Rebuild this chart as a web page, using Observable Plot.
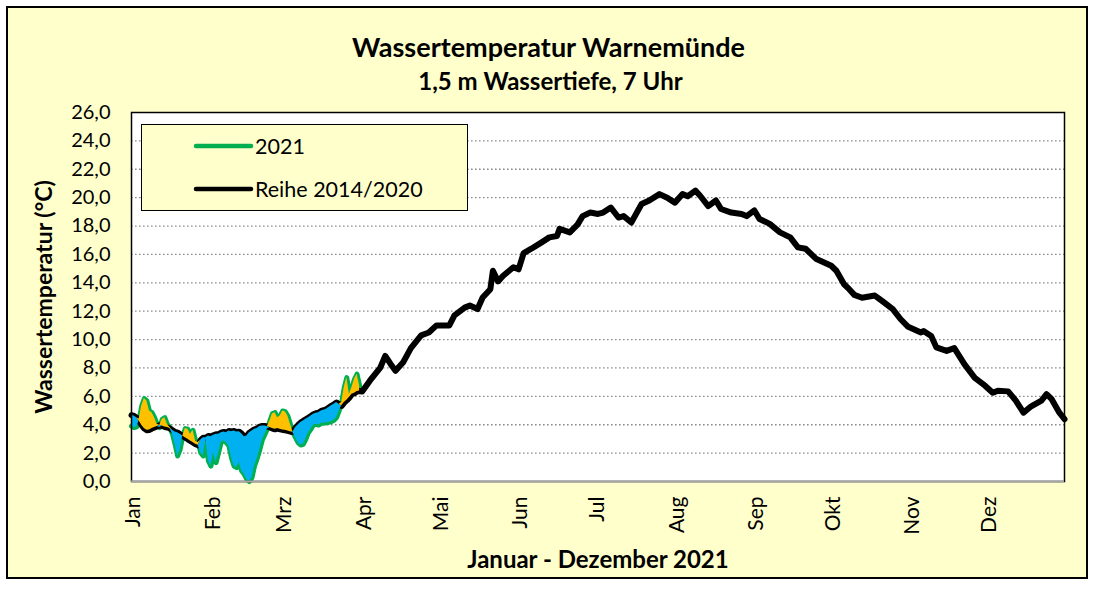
<!DOCTYPE html>
<html><head><meta charset="utf-8">
<script src="https://cdn.jsdelivr.net/npm/d3@7"></script>
<script src="https://cdn.jsdelivr.net/npm/@observablehq/plot@0.6"></script>
<style>
html,body{margin:0;padding:0;background:#fff;}
#chart{position:absolute;left:6px;top:6px;width:1078px;height:569px;border:2px solid #000;background:#FFFFCC;}
#plot{position:absolute;left:0;top:0;}
#legend{position:absolute;left:141px;top:124px;width:325px;height:85px;border:1.5px solid #000;background:#FFFFCC;}
#legend svg{position:absolute;left:0;top:0;}
#legend text{font-family:Lato,sans-serif;font-size:21.5px;fill:#000;}
</style></head>
<body>
<div id="chart"></div>
<div id="plot"></div>
<div id="legend">
<svg width="326" height="86">
<line x1="54" x2="109" y1="21" y2="21" stroke="#00B050" stroke-width="4.5" stroke-linecap="round"/>
<text x="113" y="29">2021</text>
<line x1="54" x2="109" y1="64" y2="64" stroke="#000" stroke-width="4.5" stroke-linecap="round"/>
<text x="113" y="71.5">Reihe 2014/2020</text>
</svg>
</div>
<script>
// Tick labels
const monthNames = ["Jan","Feb","Mrz","Apr","Mai","Jun","Jul","Aug","Sep","Okt","Nov","Dez"];
const monthDays = [1,32,60,91,121,152,182,213,244,274,305,335];
const yTicks = [0,2,4,6,8,10,12,14,16,18,20,22,24,26];

// Reihe 2014/2020, daily values for day 1..91
const reiheJanMar = [4.67,4.62,4.5,4.27,3.96,3.73,3.61,3.63,3.73,3.8,3.87,3.96,3.91,3.84,3.8,3.73,3.61,3.49,3.44,3.33,
  3.21,3.09,2.97,2.86,2.74,2.62,2.55,2.93,3.09,3.09,3.21,3.16,3.26,3.33,3.33,3.44,3.49,3.44,3.56,3.51,
  3.56,3.49,3.51,3.37,3.16,3.21,3.44,3.56,3.68,3.73,3.87,3.91,3.91,3.87,3.8,3.73,3.68,3.73,3.68,3.63,
  3.61,3.56,3.51,3.49,3.8,3.98,4.15,4.27,4.38,4.5,4.62,4.74,4.81,4.85,4.97,5.02,5.09,5.21,5.33,5.44,
  5.56,5.44,5.33,5.56,5.72,5.91,6.15,6.22,6.34,6.38,6.34];

// Reihe 2014/2020 after March: day of year and value
const reiheDays = [94,98,100,102,104,107,110,114,117,120,125,127,131,133,136,138,141,142,144,146,150,152,154,157,161,164,167,168,172,175,177,180,183,185,188,191,193,196,200,203,207,210,213,216,218,221,223,226,229,231,235,239,241,244,246,250,254,258,261,264,268,274,276,279,281,283,286,291,294,298,301,304,309,310,313,315,319,322,326,330,334,337,339,343,346,349,352,356,358,360,363,365];
const reiheTemp = [7.1,8.0,8.85,8.3,7.8,8.4,9.4,10.3,10.5,11.0,11.0,11.7,12.25,12.4,12.15,12.96,13.55,14.85,14.1,14.5,15.1,14.95,16.1,16.4,16.85,17.2,17.3,17.8,17.55,18.1,18.7,18.95,18.85,18.95,19.3,18.6,18.7,18.25,19.55,19.8,20.25,20.0,19.65,20.25,20.1,20.5,20.1,19.4,19.8,19.2,18.95,18.85,18.7,19.1,18.5,18.15,17.55,17.2,16.5,16.4,15.7,15.2,14.85,13.9,13.55,13.15,12.95,13.1,12.7,12.15,11.45,10.9,10.5,10.6,10.25,9.45,9.2,9.4,8.25,7.3,6.75,6.25,6.4,6.35,5.7,4.85,5.3,5.7,6.15,5.8,4.85,4.4];

// 2021, daily values for day 1..90
const temp2021 = [3.9,3.8,3.85,4.4,5.33,5.84,5.68,4.97,4.85,4.5,4.03,3.8,4.38,4.5,4.03,3.8,3.33,2.62,1.8,2.27,
  3.21,3.73,3.68,3.33,3.61,2.86,2.75,2.03,1.8,2.97,1.45,1.09,2.03,1.33,2.03,2.79,2.86,2.74,2.5,1.68,
  1.09,0.98,1.33,0.74,0.51,0.15,0.0,0.27,1.1,1.6,2.2,2.9,3.3,3.7,4.27,4.78,4.85,4.5,4.62,4.97,
  4.92,4.62,4.03,3.44,3.09,2.74,2.57,2.62,2.97,3.44,3.68,3.98,4.03,3.98,4.08,4.13,4.13,4.17,4.22,4.31,
  4.5,4.97,5.56,6.62,7.32,6.15,6.62,7.2,7.56,6.74];

const reihe = reiheJanMar.map((v, i) => ({day: i + 1, v}))
  .concat(reiheDays.map((d, i) => ({day: d, v: reiheTemp[i]})));
const y2021 = temp2021.map((v, i) => ({day: i + 1, v, r: reiheJanMar[i]}));

const fmt = d => d.toFixed(1).replace(".", ",");

const chart = Plot.plot({
  width: 1096, height: 592,
  marginLeft: 131, marginRight: 32, marginTop: 112, marginBottom: 111,
  style: {background: "transparent", fontFamily: "Lato, sans-serif", fontSize: "20px", color: "#000"},
  x: {domain: [1, 365]},
  y: {domain: [0, 26]},
  marks: [
    Plot.frame({fill: "#fff", stroke: null}),
    Plot.gridY(yTicks.filter(t => t > 0 && t < 26), {stroke: "#8c8c8c", strokeOpacity: 1, strokeWidth: 1.3, strokeDasharray: "1.6,2.4"}),
    Plot.line(y2021, {x: "day", y: "v", stroke: "#00B050", strokeWidth: 5, strokeLinejoin: "round"}),
    Plot.line(reihe, {x: "day", y: "v", stroke: "#000", strokeWidth: 6, strokeLinejoin: "round", strokeLinecap: "round"}),
    Plot.areaY(y2021, {x: "day", y1: "r", y2: d => Math.min(d.v, d.r), fill: "#00B0F0"}),
    Plot.areaY(y2021, {x: "day", y1: "r", y2: d => Math.max(d.v, d.r), fill: "#FFC000"}),
    Plot.frame({stroke: "#000", strokeWidth: 1.5}),
    Plot.ruleY([0], {stroke: "#a6a6a6", strokeWidth: 2}),
    Plot.axisY(yTicks, {tickFormat: fmt, tickSize: 0, tickPadding: 21, fontSize: 20, label: null}),
    Plot.axisX(monthDays, {tickFormat: d => monthNames[monthDays.indexOf(d)], tickRotate: -90, tickSize: 0, tickPadding: 15, dx: 2, fontSize: 21, label: null}),
    Plot.text(["Wassertemperatur Warnemünde"], {text: d => d, frameAnchor: "top-left", dx: 417, dy: -64.5, lineAnchor: "middle", fontSize: 27, fontWeight: "bold", textAnchor: "middle"}),
    Plot.text(["1,5 m Wassertiefe, 7 Uhr"], {text: d => d, frameAnchor: "top-left", dx: 419, dy: -30, lineAnchor: "middle", fontSize: 24, fontWeight: "bold", textAnchor: "middle"}),
    Plot.text(["Wassertemperatur (°C)"], {text: d => d, frameAnchor: "left", dx: -87, rotate: -90, lineAnchor: "middle", fontSize: 23, fontWeight: "bold", textAnchor: "middle"}),
    Plot.text(["Januar - Dezember 2021"], {text: d => d, frameAnchor: "bottom", dy: 79, lineAnchor: "middle", fontSize: 24, fontWeight: "bold", textAnchor: "middle"})
  ]
});
document.getElementById("plot").appendChild(chart);
</script>
</body></html>
